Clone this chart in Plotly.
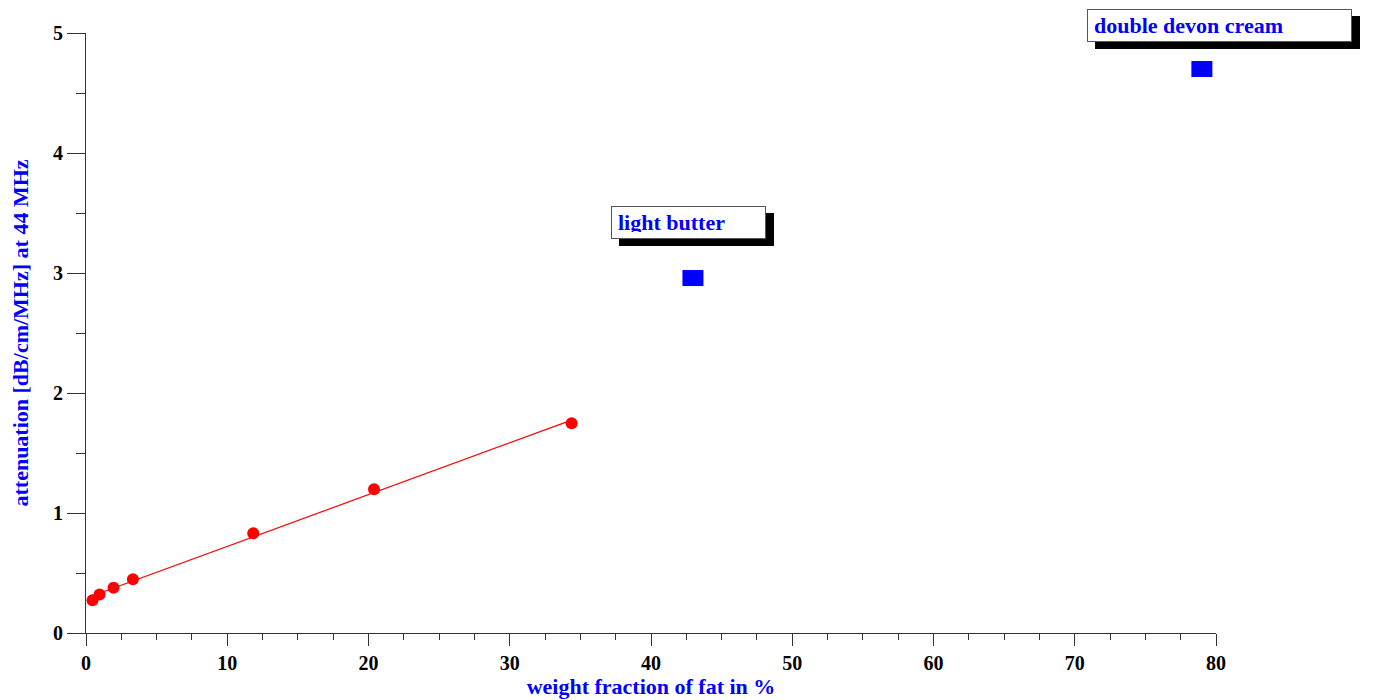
import numpy as np
import plotly.graph_objects as go

# ---- data ----
fat_milk = [0.46, 0.96, 1.95, 3.32, 11.84, 20.39, 34.38]
atten_milk = [0.273, 0.321, 0.378, 0.448, 0.831, 1.197, 1.747]

fat_products = [42.97, 79.0]
atten_products = [2.958, 4.70]
product_labels = ["light butter", "double devon cream"]

x_title = "weight fraction of fat in %"
y_title = "attenuation [dB/cm/MHz] at 44 MHz"

# ---- linear fit ----
slope, intercept = np.polyfit(fat_milk, atten_milk, 1)
fit_x = np.array([min(fat_milk), max(fat_milk)])
fit_y = slope * fit_x + intercept

FONT = "Liberation Serif, Times New Roman, serif"
BLUE = "#0000ff"

fig = go.Figure()
fig.add_trace(go.Scatter(x=fit_x, y=fit_y, mode="lines",
                         line=dict(color="#ff0000", width=1.2),
                         hoverinfo="skip", showlegend=False))
fig.add_trace(go.Scatter(x=fat_milk, y=atten_milk, mode="markers",
                         marker=dict(symbol="circle", size=12, color="#ff0000",
                                     line=dict(width=0)),
                         showlegend=False))
fig.add_trace(go.Scatter(x=fat_products, y=atten_products, mode="markers",
                         marker=dict(symbol="line-ew", size=15,
                                     line=dict(width=16, color=BLUE)),
                         showlegend=False))

# label boxes (left, top in paper coords; box width/height in px)
boxes = [
    dict(x=0.4646, y=0.7117, w=155, h=33),
    dict(x=0.8858, y=1.0395, w=265, h=33),
]
pad = 6
annotations = []
for lab, b in zip(product_labels, boxes):
    common = dict(x=b["x"], y=b["y"], xref="paper", yref="paper",
                  xanchor="left", yanchor="top", showarrow=False,
                  align="left", valign="middle", borderpad=pad, borderwidth=1,
                  width=b["w"] - 2 * (pad + 1), height=b["h"] - 2 * (pad + 1))
    annotations.append(dict(common, text="&#160;", xshift=8, yshift=-7,
                            bgcolor="black", bordercolor="black",
                            font=dict(family=FONT, size=22, color="black")))
    annotations.append(dict(common, text="<b>%s</b>" % lab, bgcolor="white",
                            bordercolor="#555555",
                            font=dict(family=FONT, size=22, color=BLUE)))

axis_common = dict(showgrid=False, zeroline=False, showline=True,
                   linecolor="#333333", linewidth=1, ticks="outside",
                   tickcolor="#333333", tickwidth=1, automargin=False,
                   tickfont=dict(family=FONT, size=20, color="black"))

# the page body has an 8px default margin; size the figure to compensate
fig.update_layout(
    width=1365, height=692,
    margin=dict(l=78, r=157, t=25, b=67),
    plot_bgcolor="white", paper_bgcolor="white",
    annotations=annotations,
    xaxis=dict(axis_common, range=[0, 80], dtick=10, tick0=0, ticklen=12,
               minor=dict(dtick=2.5, ticklen=6, ticks="outside",
                          tickcolor="#333333", showgrid=False),
               tickprefix="<b>", ticksuffix="</b>",
               title=dict(text="<b>%s</b>" % x_title, standoff=2,
                          font=dict(family=FONT, size=22, color=BLUE))),
    yaxis=dict(axis_common, range=[0, 5], dtick=1, tick0=0, ticklen=18,
               minor=dict(dtick=0.5, ticklen=9, ticks="outside",
                          tickcolor="#333333", showgrid=False),
               tickprefix="<b>", ticksuffix="</b>",
               title=dict(text="<b>%s</b>" % y_title, standoff=20,
                          font=dict(family=FONT, size=22, color=BLUE))),
)

fig.write_html("out.html")
